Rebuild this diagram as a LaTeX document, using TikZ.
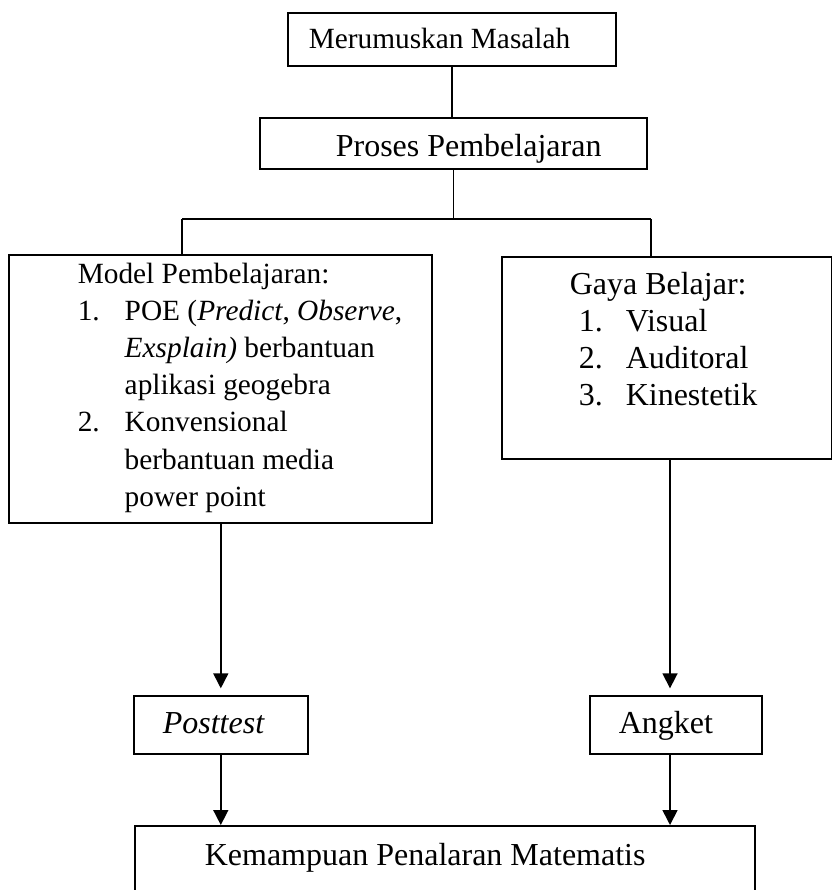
\documentclass[tikz,border=0pt]{standalone}
\usepackage{fontspec}
\setmainfont{Liberation Serif}
\usetikzlibrary{positioning,arrows.meta}
\newcommand{\itemno}[1]{\makebox[17.6pt][l]{#1}}
\newcommand{\itemgap}{\hspace*{17.6pt}}
\newcommand{\boxtext}[4][0pt]{\makebox[#2][l]{\hspace{#3}\raisebox{#1}[\height][\depth]{\begin{tabular}{@{}l@{}}#4\end{tabular}}}}
\tikzset {
    box/.style={
        draw=black,
        line width=0.6pt,
        rectangle, % Set the shape as a rectangle
        anchor=north west,
        inner sep=0pt,
        font=\fontsize{12}{13.9}\selectfont,
    },
    small text/.style={
        font=\fontsize{11}{13.9}\selectfont,
    },
    link/.style={
        draw=black,
        line width=0.6pt,
    },
    flow/.style={
        link,
        -{Triangle[length=5.6pt,width=5.6pt]},
    },
}
\begin{document}
\begin{tikzpicture}[x=0.375pt, y=-0.375pt]
        \useasboundingbox (0,0) rectangle (832,890);
        \clip (0,0) rectangle (832,890);
        % boxes
        \node[box, small text, minimum width=123pt, minimum height=19.875pt] (masalah) at (287,12)
            {\boxtext[-0.75pt]{123pt}{7.875pt}{Merumuskan Masalah}};
        \node[box, minimum width=145.125pt, minimum height=19.125pt] (proses) at (259,117)
            {\boxtext[-2.25pt]{145.125pt}{28.5pt}{Proses Pembelajaran}};
        \node[box, small text, minimum width=158.625pt, minimum height=100.5pt] (model) at (8,254)
            {\boxtext[0.5pt]{158.625pt}{25.875pt}{Model Pembelajaran:\\
                \itemno{1.}POE (\textit{Predict}, \textit{Observe},\\
                \itemgap\textit{Exsplain)} berbantuan\\
                \itemgap aplikasi geogebra\\
                \itemno{2.}Konvensional\\
                \itemgap berbantuan media\\
                \itemgap power point}};
        \node[box, minimum width=123.75pt, minimum height=75.75pt] (gaya) at (501,256)
            {\boxtext[5.6pt]{123.75pt}{25.5pt}{Gaya Belajar:\\
                \hspace*{3.4pt}\itemno{1.}Visual\\
                \hspace*{3.4pt}\itemno{2.}Auditoral\\
                \hspace*{3.4pt}\itemno{3.}Kinestetik}};
        \node[box, minimum width=65.25pt, minimum height=21.75pt] (posttest) at (133,695)
            {\boxtext[-0.5pt]{65.25pt}{10.875pt}{\textit{Posttest}}};
        \node[box, minimum width=64.5pt, minimum height=21.75pt] (angket) at (589,695)
            {\boxtext[-0.5pt]{64.5pt}{10.875pt}{Angket}};
        \node[box, minimum width=232.5pt, minimum height=35.625pt] (kemampuan) at (134,825)
            {\boxtext[5.625pt]{232.5pt}{26.25pt}{Kemampuan Penalaran Matematis}};
        % connectors
        \coordinate (left end) at (182,219);
        \coordinate (right end) at (651,219);
        \coordinate (right line) at (670,0);
        \draw[link] (masalah.south) -- (masalah.south |- proses.north);
        \draw[link] (proses.south) -- (proses.south |- left end);
        \draw[link] (left end) -- (right end);
        \draw[link] (left end) -- (left end |- model.north);
        \draw[link] (right end) -- (right end |- gaya.north);
        \draw[flow, shorten >=2.5pt] (posttest.north |- model.south) -- (posttest.north);
        \draw[flow] (posttest.south) -- (posttest.south |- kemampuan.north);
        \draw[flow, shorten >=2.5pt] (right line |- gaya.south) -- (right line |- angket.north);
        \draw[flow] (right line |- angket.south) -- (right line |- kemampuan.north);
    \end{tikzpicture}
\end{document}
